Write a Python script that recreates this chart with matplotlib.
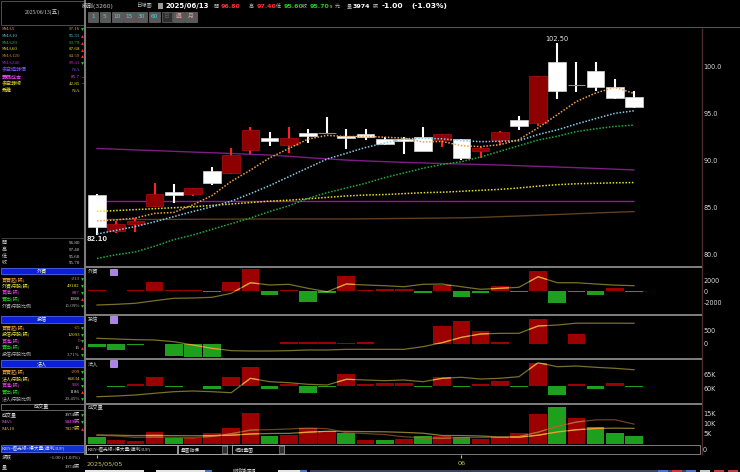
import matplotlib
matplotlib.use('Agg')
import matplotlib.pyplot as plt
from matplotlib.patches import Rectangle

# ---------------------------------------------------------------
# Data: 威剛(3260) daily, 2025/05/05 - 2025/06/13
dates = ['2025/05/05', '2025/05/06', '2025/05/07', '2025/05/08', '2025/05/09',
         '2025/05/12', '2025/05/13', '2025/05/14', '2025/05/15', '2025/05/16',
         '2025/05/19', '2025/05/20', '2025/05/21', '2025/05/22', '2025/05/23',
         '2025/05/26', '2025/05/27', '2025/05/28', '2025/05/29',
         '2025/06/02', '2025/06/03', '2025/06/04', '2025/06/05', '2025/06/06',
         '2025/06/09', '2025/06/10', '2025/06/11', '2025/06/12', '2025/06/13']
opens = [86.4, 82.5, 83.3, 85.2, 86.6, 86.5, 88.9, 88.7, 91.1, 92.3,
         91.7, 92.85, 93.0, 92.6, 92.85, 92.3, 92.25, 92.5, 92.2, 92.3,
         91.05, 92.2, 94.3, 94.05, 100.5, 98.1, 99.5, 97.8, 96.8]
highs = [86.5, 83.6, 83.9, 87.6, 87.5, 87.15, 89.3, 91.4, 93.6, 93.1,
         93.6, 93.4, 94.6, 93.4, 93.4, 92.5, 92.5, 93.55, 92.85, 92.35,
         91.45, 93.2, 94.8, 99.0, 102.5, 100.5, 100.5, 98.7, 97.4]
lows = [82.1, 82.3, 82.45, 85.1, 85.5, 86.3, 87.4, 88.6, 90.7, 91.6,
        90.8, 91.9, 92.85, 91.3, 92.2, 91.7, 90.7, 91.0, 91.5, 90.1,
        90.3, 91.7, 93.3, 93.7, 96.6, 97.3, 97.4, 96.6, 95.6]
closes = [82.9, 83.3, 83.6, 86.5, 86.4, 87.1, 87.6, 90.6, 93.3, 92.2,
          92.45, 92.75, 93.0, 92.45, 92.5, 91.8, 92.15, 91.05, 92.8, 90.25,
          91.4, 93.05, 93.7, 99.0, 97.45, 98.1, 97.8, 96.7, 95.7]
prev_close = 84.5   # close before the first bar (only sets its volume colour)
change = -1.00

sma5 = [83.6, 83.7, 83.9, 84.4, 84.5, 85.3, 86.3, 87.8, 89.0, 90.3,
        91.3, 92.3, 92.7, 92.57, 92.6, 92.5, 92.4, 92.0, 92.05, 91.6,
        91.5, 91.7, 92.25, 93.5, 94.9, 96.3, 97.2, 97.8, 97.16]
sma10 = [82.2, 82.6, 83.0, 83.5, 84.05, 84.6, 85.1, 85.7, 86.5, 87.35,
         88.3, 89.25, 90.19, 90.79, 91.41, 91.88, 92.34, 92.38, 92.33, 92.14,
         92.03, 92.06, 92.13, 92.79, 93.28, 93.91, 94.48, 95.04, 95.31]
sma20 = [79.6, 80.0, 80.3, 80.9, 81.6, 82.1, 82.7, 83.3, 83.9, 84.6,
         85.2, 86.0, 86.6, 87.1, 87.6, 88.2, 88.7, 89.2, 89.6, 89.9,
         90.4, 91.0, 91.6, 92.2, 92.6, 93.1, 93.4, 93.65, 93.79]
sma60 = [84.6, 84.7, 84.8, 84.9, 85.0, 85.1, 85.25, 85.4, 85.55, 85.7,
         85.8, 85.95, 86.1, 86.25, 86.35, 86.4, 86.5, 86.6, 86.65, 86.75,
         86.85, 86.95, 87.1, 87.3, 87.45, 87.55, 87.6, 87.65, 87.68]
sma120 = [83.75, 83.75, 83.75, 83.75, 83.76, 83.77, 83.78, 83.79, 83.8, 83.8,
          83.8, 83.8, 83.8, 83.8, 83.82, 83.84, 83.86, 83.88, 83.9, 83.93,
          83.97, 84.05, 84.12, 84.2, 84.28, 84.36, 84.44, 84.52, 84.59]
sma240 = [91.3, 91.23, 91.15, 91.08, 91.0, 90.92, 90.85, 90.77, 90.68, 90.6,
          90.47, 90.33, 90.2, 90.07, 89.98, 89.9, 89.83, 89.77, 89.7, 89.65,
          89.6, 89.54, 89.47, 89.4, 89.33, 89.26, 89.18, 89.1, 89.02]
chip_cost = 85.7

foreign_net = [200, 50, 200, 1750, 150, 250, -200, 1700, 4000, -670,
               250, -1900, -250, 2800, 300, 350, 470, -250, 1200, -1000,
               -250, 900, -200, 3700, -2200, -150, -600, 600, -213]
foreign_hold = [42040, 42300, 42670, 43630, 44520, 44630, 44890, 46370, 50290, 49440,
                49700, 48220, 46960, 49810, 49440, 49180, 48810, 49700, 49810, 48810,
                47850, 48220, 48590, 52510, 50290, 50290, 49810, 49395, 49182]
trust_net = [-110, -230, -60, 0, -450, -475, -500, 0, 0, 0,
             70, 70, 60, 20, 80, 0, 0, 0, 645, 840,
             475, 60, 0, 890, 0, 365, 0, 0, -15]
trust_hold = [10290, 10210, 10130, 10090, 9890, 9490, 9090, 8810, 8770, 8770,
              8810, 8890, 8890, 8970, 8970, 8970, 8970, 9290, 9770, 10410,
              10810, 10890, 10890, 11770, 11890, 12108, 12108, 12108, 12093]
inst_net = [100, -200, 330, 1740, -200, 100, -600, 1740, 3740, -600,
            400, -1330, -200, 2400, 400, 530, 670, -270, 1740, -200,
            400, 1070, -200, 4660, -1800, 400, -600, 670, -209]
inst_hold = [57000, 57250, 57610, 58220, 58790, 59040, 58790, 58430, 63570, 62360,
             62000, 61430, 61180, 63220, 62970, 62720, 62970, 62360, 63570, 63930,
             63320, 63570, 64140, 69140, 67710, 67960, 67500, 67140, 66634]
volume = [3650, 2000, 1500, 6200, 3200, 2800, 5300, 8200, 15300, 4200,
          4500, 7800, 6500, 5300, 2000, 2000, 2300, 4000, 4000, 3700,
          2300, 3300, 5300, 15000, 18300, 13000, 8700, 5700, 3974]
vol_ma5 = [4400, 4000, 3300, 3500, 3310, 3140, 3800, 5140, 6960, 7160,
           7500, 8000, 7660, 5660, 5220, 4720, 3620, 3120, 2860, 3200,
           3260, 3460, 3720, 5920, 8840, 10980, 12060, 12140, 9940]
vol_ma10 = [4500, 4400, 4200, 4300, 4200, 4100, 4200, 4400, 5000, 5240,
            5320, 5900, 6400, 6310, 6190, 6110, 5810, 5390, 4260, 4210,
            3990, 3540, 3420, 4390, 6020, 7120, 7760, 7930, 7827]

# left info panel texts
ma_names = ['SMA5', 'SMA10', 'SMA20', 'SMA60', 'SMA120', 'SMA240',
            '多空迴轉價', '籌碼成本', '多空轉線', '乖離']
ma_values = ['97.16', '95.31', '93.79', '87.68', '84.59', '89.41',
             'N/A', '85.7', '42.85', 'N/A']
foreign_info = ['-213', '49182', '887', '1080', '15.09%']
trust_info = ['-15', '12093', '0', '15', '3.71%']
inst_info = ['-209', '66634', '908', '1186', '20.45%']
vol_info = ['3974張', '5849張', '7827張']

# ---------------------------------------------------------------
W, H = 740, 472
SERIF = ['Liberation Serif', 'Noto Sans CJK TC']
SANS = ['DejaVu Sans', 'Noto Sans CJK TC']
plt.rcParams['font.family'] = SANS

RED_BODY, RED_EDGE, RED_WICK = '#8e0000', '#b01010', '#ff2020'
BAR_RED, BAR_GREEN = '#9c0000', '#1ea01e'
GRID = '#8a8a8a'
AXTXT = '#d8d8d8'

fig = plt.figure(figsize=(7.4, 4.72), dpi=100, facecolor='black')


def box(x0, y0, x1, y1):
    return [x0 / W, 1 - y1 / H, (x1 - x0) / W, (y1 - y0) / H]


ui = fig.add_axes([0, 0, 1, 1])
ui.set_xlim(0, W)
ui.set_ylim(H, 0)
ui.axis('off')


def txt(x, y, s, color='#d0d0d0', size=3.6, ha='left', fam=SERIF, weight='normal'):
    ui.text(x, y, s, color=color, fontsize=size, ha=ha, va='center',
            family=fam, weight=weight)


def rect(x0, y0, x1, y1, face='none', edge='none', lw=0.6):
    ui.add_patch(Rectangle((x0, y0), x1 - x0, y1 - y0, facecolor=face,
                           edgecolor=edge, lw=lw))


def arrow(y, up):
    ui.plot(82, y, marker='^' if up else 'v', ms=2.0, mew=0,
            color='#ff3030' if up else '#20d020')


# ---------------- header ----------------
n = len(dates)
pct = change / (closes[-1] - change) * 100
txt(82, 6, '威剛(3260)', '#c8c8c8', 4.3, fam=SANS)
txt(136, 6, '日線圖', '#bdbdbd', 3.8, fam=SANS)
rect(157.5, 3, 163, 9, face='#9a9a9a')
txt(165, 6, dates[-1], 'white', 5.0, fam=SANS, weight='bold')
hdr = [(214, 220.5, '開', opens[-1], '#ff3030'),
       (248.5, 257, '高', highs[-1], '#ff3030'),
       (275.5, 283.5, '低', lows[-1], '#20d020'),
       (302, 309.5, '收', closes[-1], '#20d020')]
for lx, vx, lab, val, col in hdr:
    txt(lx, 6, lab, '#bdbdbd', 3.6, fam=SANS)
    txt(vx, 6, f'{val:.2f}', col, 4.5, fam=SANS, weight='bold')
txt(330, 6.5, 's', '#d0d0d0', 3.4, fam=SANS)
txt(334.5, 6, '元', '#bdbdbd', 3.6, fam=SANS)
txt(346.5, 6, '量', '#bdbdbd', 3.6, fam=SANS)
txt(353, 6, f'{volume[-1]}', 'white', 4.5, fam=SANS, weight='bold')
txt(372.5, 6, '張', '#bdbdbd', 3.6, fam=SANS)
txt(382, 6, f'{change:.2f}', 'white', 5.4, fam=SANS, weight='bold')
txt(411, 6, f'({pct:.2f}%)', 'white', 5.4, fam=SANS, weight='bold')

buttons = [('1', 88, 98), ('5', 99.5, 110), ('10', 111.5, 123), ('15', 124, 135),
           ('30', 136, 147), ('60', 148.5, 160), ('日', 161.5, 172),
           ('週', 173, 184), ('月', 185, 197)]
for lab, x0, x1 in buttons:
    dim = lab == '日'
    rect(x0, 11.5, x1, 21.5, face='#2e2e2e' if dim else '#595959',
         edge='#7a7a7a', lw=0.4)
    col = '#5a5a5a' if dim else ('#e0a0a0' if lab in '週月' else '#40d8d8')
    txt((x0 + x1) / 2, 16.6, lab, col, 4.2, ha='center', fam=SANS)
ui.hlines(27, 86, W, color='#555555', lw=0.8)

# ---------------- left panel ----------------
ui.vlines(85, 0, 455, color='#7a7a7a', lw=1.5)
rect(1, 1, 84, 24.5, edge='#5a5a5a', lw=0.6)
txt(42.5, 12.5, '2025/06/13(五)', '#d0d0d0', 4.1, ha='center')

ma_cols = ['#e8a040', '#60c8f0', '#20c030', '#e8e020', '#c08850', '#c020c0',
           '#8050ff', '#ff50ff', '#e8e020', '#e8e020']
ma_marks = ['dn', 'up', 'up', 'up', 'up', 'dn', None, '=', '=', None]
ma_rows = [29.3, 36.0, 42.7, 49.5, 56.3, 63.1, 70.0, 77.0, 83.8, 90.5]
for y, name, val, col, mk in zip(ma_rows, ma_names, ma_values, ma_cols, ma_marks):
    txt(2, y, name, col)
    txt(80, y, val, col, ha='right')
    if mk == '=':
        txt(81.5, y, '=', '#909090', 3.4)
    elif mk:
        arrow(y, mk == 'up')

ui.hlines(238, 1, 84, color='#4a4a4a', lw=0.6)
for y, lab, val in zip([242.8, 249.6, 256.5, 263.3], ['開', '高', '低', '收'],
                       [opens[-1], highs[-1], lows[-1], closes[-1]]):
    txt(2, y, lab, '#d0d0d0')
    txt(80, y, f'{val:.2f}', '#d0d0d0', ha='right')


def info_block(y0, title, rows, vals, marks):
    rect(0.5, y0, 84, y0 + 6.8, face='#0b1fd8', edge='#5a78ff', lw=0.5)
    txt(42, y0 + 3.5, title, '#ffffb0', 3.7, ha='center')
    lab_cols = ['#f0a040', '#e8e040', '#e040e0', '#20d020', '#b0b0b0']
    val_cols = ['#f09040', '#e8e040', '#e040e0', '#e0e0e0', '#b0b0b0']
    for k, (lab, val) in enumerate(zip(rows, vals)):
        y = y0 + 11.8 + k * 6.7
        txt(2, y, lab, lab_cols[k])
        txt(80, y, val, val_cols[k], ha='right')
        arrow(y, marks[k])


info_block(267.5, '外資', ['買賣超(張)', '外資持股(張)', '買進(張)', '賣出(張)', '外資持股比例'],
           foreign_info, [False, False, False, True, False])
info_block(316, '投信', ['買賣超(張)', '投信持股(張)', '買進(張)', '賣出(張)', '投信持股比例'],
           trust_info, [False, False, False, True, False])
info_block(360.3, '法人', ['買賣超(張)', '法人持股(張)', '買進(張)', '賣出(張)', '法人持股比例'],
           inst_info, [False, False, False, True, False])

rect(0.5, 403.5, 84, 410, face='black', edge='#8a8a8a', lw=0.5)
txt(42, 406.8, '成交量', '#e8e8e8', 3.7, ha='center')
for y, lab, val, col, up in zip([415.3, 422.0, 428.7], ['成交量', 'MA5', 'MA10'],
                                vol_info, ['#e0e0e0', '#ff60ff', '#e8c040'],
                                [False, False, True]):
    txt(2, y, lab, col)
    txt(80, y, val, col, ha='right')
    arrow(y, up)

rect(0.5, 444.5, 84, 452, face='#1030d0', edge='#6080ff', lw=0.5)
txt(2, 448.3, 'KEN-極光線+爆大量(獲利3UP)', '#e0e0ff', 3.4)
txt(2, 457.3, '漲跌', '#d0d0d0')
txt(80, 457.3, f'{change:.2f} ({pct:.2f}%)', '#d0d0d0', ha='right')
txt(2, 466.7, '量', '#d0d0d0')
txt(80, 466.7, vol_info[0], '#d0d0d0', ha='right')

# ---------------- chart frame ----------------
ui.vlines(702, 28, 455, color='#4a2c2c', lw=1.0)
ui.hlines([266.5, 314.5, 358.5, 403.5], 86, 702, color=GRID, lw=1.3)
titles = [(272, '外資', True), (319.5, '投信', True), (363.5, '法人', True),
          (407.5, '成交量', False)]
for y, t, icon in titles:
    txt(88, y, t, '#d0d0d0', 3.8, fam=SANS)
    if icon:
        rect(109.5, y - 3.2, 116.5, y + 3.2, face='#b080f0', edge='#e8d0ff', lw=0.4)

# bottom indicator bar
rect(86, 445.3, 700, 454, edge='#909090', lw=0.6)
rect(86, 445.3, 177, 454, edge='#b0b0b0', lw=0.6)
txt(88, 449.7, 'KEN-極光線+爆大量(獲利3UP)', '#d8d8d8', 3.4)
for x0, x1, lab in [(178, 227, '疊圖指標'), (232, 284, '相對量圖')]:
    rect(x0, 445.3, x1, 454, edge='#b0b0b0', lw=0.6)
    rect(x1 - 5, 446, x1, 453.3, face='#303030', edge='#909090', lw=0.4)
    txt(x0 + 3, 449.7, lab, '#d8d8d8', 3.4)
txt(703, 450.5, '0', AXTXT, 4.7, fam=SANS)

# bottom toolbar fragments
rect(85, 469.5, 144, 473, face='#e4e4e4')
rect(156, 469.5, 205, 473, face='#e4e4e4')
rect(205, 469.5, 212, 473, face='#4a78c8')
txt(233, 469.6, 'K線對數間隔', '#c8c8c8', 3.0, fam=SANS)
rect(278, 469.5, 300, 473, face='#e4e4e4')
rect(300, 469.5, 307, 473, face='#4a78c8')
rect(310, 470, 690, 473, face='#3a4660')
for xi, c in zip([658, 672, 686, 700, 714, 728], ['#4a78c8', '#c04040', '#4a78c8',
                                                  '#c8c8c8', '#c04040', '#c04040']):
    rect(xi, 469.5, xi + 10, 473, face=c)

# ---------------- price chart ----------------
step = (634 - 97) / 28.0
XMIN = -(97 - 86) / step
XMAX = XMIN + (702 - 86) / step
x = list(range(n))

ax = fig.add_axes(box(86, 28, 702, 266))
ax.set_facecolor('none')
ax.set_xlim(XMIN, XMAX)
ax.set_ylim(78.8, 104.12)

ma_style = dict(lw=1.1, dashes=(1.0, 1.1), zorder=5)
ax.hlines(chip_cost, x[0], x[-1], color='#a010a8', lw=1.0, zorder=2)
ax.plot(x, sma240, color='#7e1c84', lw=1.0, zorder=2)
ax.plot(x, sma120, color='#5e3f22', lw=1.0, zorder=2)
ax.plot(x, sma60, color='#e6e020', **ma_style)
ax.plot(x, sma20, color='#1fb03a', **ma_style)
ax.plot(x, sma10, color='#86cbe8', **ma_style)
ax.plot(x, sma5, color='#f0a050', **ma_style)

min_body = 0.25
for i in x:
    o, h, l, c = opens[i], highs[i], lows[i], closes[i]
    up = c > o
    ax.vlines(i, l, h, color=RED_WICK if up else 'white', lw=1.5, zorder=3)
    if c == o:
        ax.hlines(c, i - 0.46, i + 0.46, color='#8c8c8c', lw=0.8, zorder=4)
        continue
    hgt = abs(c - o)
    bottom = min(o, c)
    if hgt < min_body:
        bottom = (o + c) / 2 - min_body / 2
        hgt = min_body
    ax.bar(i, hgt, 0.92, bottom=bottom,
           color=RED_BODY if up else 'white',
           edgecolor=RED_EDGE if up else '#d8d8d8', lw=0.5, zorder=4)

imax = highs.index(max(highs))
imin = lows.index(min(lows))
ax.annotate(f'{highs[imax]:.2f}', (imax, highs[imax]), xytext=(0, 1.2),
            textcoords='offset points', ha='center', va='bottom',
            color='#e8e8e8', fontsize=4.8)
ax.annotate(f'{lows[imin]:.2f}', (imin, lows[imin]), xytext=(0, -0.8),
            textcoords='offset points', ha='center', va='top',
            color='#e8e8e8', fontsize=4.8, weight='bold')


def clean(a):
    for s in a.spines.values():
        s.set_visible(False)
    a.set_facecolor('none')
    a.tick_params(axis='x', bottom=False, labelbottom=False)
    a.tick_params(axis='y', length=0, pad=1.2, labelsize=4.7, labelcolor=AXTXT)


clean(ax)
ax.yaxis.tick_right()
ticks = [80, 85, 90, 95, 100]
ax.set_yticks(ticks)
ax.set_yticklabels([f'{t:.1f}' for t in ticks])


# ---------------- sub panels ----------------
def line_over_bars(a, ys, bars, base, hi, lw=0.9):
    a.plot(x, ys, color=base, lw=lw, zorder=5)
    for b in bars:
        ln, = a.plot(x, ys, color=hi, lw=lw, zorder=6)
        ln.set_clip_path(b)


def panel(y0, y1, net, hold, lim, hold_lim, ticks, labels, on_hold):
    a = fig.add_axes(box(86, y0, 702, y1))
    a.set_xlim(XMIN, XMAX)
    a.set_ylim(*lim)
    cols = [BAR_RED if v > 0 else BAR_GREEN for v in net]
    bars = a.bar(x, net, 0.92, color=cols, lw=0)
    a2 = a.twinx()
    a2.set_ylim(*hold_lim)
    line_over_bars(a2, hold, bars, '#7a7028', '#f0a030')
    for ax_ in (a, a2):
        clean(ax_)
        ax_.set_yticks([])
    tgt = a2 if on_hold else a
    tgt.yaxis.tick_right()
    tgt.set_yticks(ticks)
    tgt.set_yticklabels(labels)
    return a


panel(267, 314, foreign_net, foreign_hold, (-4127, 4418), (38711, 56101),
      [-2000, 0, 2000], ['-2000', '0', '2000'], False)
panel(315, 358, trust_net, trust_hold, (-522, 1048), (7929, 13089),
      [0, 500], ['0', '500'], False)
panel(359, 403, inst_net, inst_hold, (-3400, 5400), (54754, 70462),
      [60000, 65000], ['60K', '65K'], True)

av = fig.add_axes(box(86, 404, 702, 445))
av.set_xlim(XMIN, XMAX)
av.set_ylim(-500, 20000)
prev = [prev_close] + closes[:-1]
vcols = [BAR_RED if c > p else BAR_GREEN for c, p in zip(closes, prev)]
vbars = av.bar(x, volume, 0.92, color=vcols, lw=0)
line_over_bars(av, vol_ma5, vbars, '#6e4020', '#b86a34')
line_over_bars(av, vol_ma10, vbars, '#8a7a30', '#f0a030')
clean(av)
av.yaxis.tick_right()
av.set_yticks([5000, 10000, 15000])
av.set_yticklabels(['5K', '10K', '15K'])

# ---------------- date strip ----------------
ad = fig.add_axes(box(86, 455, 702, 470))
ad.set_xlim(XMIN, XMAX)
ad.set_ylim(0, 1)
ad.axis('off')
marks = [0] + [i for i in range(1, n) if dates[i][5:7] != dates[i - 1][5:7]]
for i in marks:
    ad.vlines(i, 0.8, 1.0, color='#c8c850', lw=0.8)
    first = i == 0
    ad.annotate(dates[i] if first else dates[i][5:7], (i, 0.42),
                xytext=(-7.2 if first else 0, 0), textcoords='offset points',
                ha='left' if first else 'center', va='center',
                color='#c8c850', fontsize=4.6)

fig.savefig('out.png', dpi=100, facecolor='black')
